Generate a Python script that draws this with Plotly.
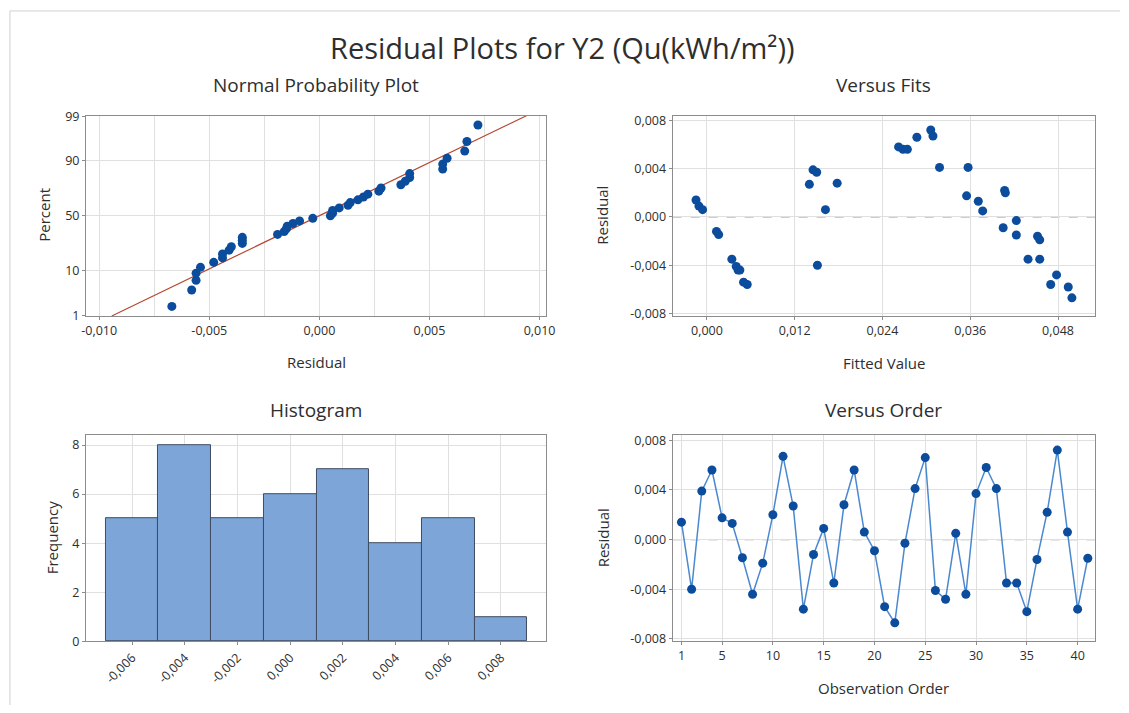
import plotly.graph_objects as go
from statistics import NormalDist, mean, stdev

# ---------------- data ----------------
observation_order = list(range(1, 42))
residuals = [
    0.0014, -0.0040, 0.0039, 0.0056, 0.00175, 0.0013, -0.00146, -0.0044, -0.0019, 0.0020,
    0.0067, 0.0027, -0.0056, -0.0012, 0.0009, -0.0035, 0.0028, 0.0056, 0.0006, -0.0009,
    -0.0054, -0.0067, -0.0003, 0.0041, 0.0066, -0.0041, -0.0048, 0.0005, -0.0044, 0.0037,
    0.0058, 0.0041, -0.0035, -0.0035, -0.0058, -0.0016, 0.0022, 0.0072, 0.0006, -0.0056,
    -0.0015,
]
fitted_values = [
    -0.0015, 0.0151, 0.0145, 0.0268, 0.0355, 0.0371, 0.0016, 0.00425, 0.0455, 0.0408,
    0.0309, 0.0140, 0.0055, 0.0013, -0.0011, 0.0034, 0.0178, 0.0274, 0.0162, 0.0405,
    0.0050, 0.0499, 0.0423, 0.0357, 0.0287, 0.0040, 0.0478, 0.0377, 0.0045, 0.0150,
    0.0262, 0.0318, 0.0439, 0.0455, 0.0494, 0.0452, 0.0407, 0.0306, -0.0006, 0.0470,
    0.0423,
]

npp_pct_ticks = [1, 10, 50, 90, 99]
npp_x_ticks = [-0.010, -0.005, 0.0, 0.005, 0.010]
npp_x_labels = ["-0,010", "-0,005", "0,000", "0,005", "0,010"]
fits_x_ticks = [0.0, 0.012, 0.024, 0.036, 0.048]
fits_x_labels = ["0,000", "0,012", "0,024", "0,036", "0,048"]
resid_ticks = [-0.008, -0.004, 0.0, 0.004, 0.008]
resid_labels = ["-0,008", "-0,004", "0,000", "0,004", "0,008"]
hist_ticks = [-0.006, -0.004, -0.002, 0.0, 0.002, 0.004, 0.006, 0.008]
hist_labels = ["-0,006", "-0,004", "-0,002", "0,000", "0,002", "0,004", "0,006", "0,008"]
freq_ticks = [0, 2, 4, 6, 8]
order_ticks = [1, 5, 10, 15, 20, 25, 30, 35, 40]

# ---------------- style ----------------
W, H = 1129, 713
FONT = "Open Sans"
TXT = "#2E2E2E"
GRID = "#E0E0E0"
BORDER = "#8C8C8C"
DOT = "#0B4C9C"
LINE_BLUE = "#4A88D0"
BAR = "#7DA5D8"
BAR_EDGE = "#3E4C63"
FIT_LINE = "#B5472F"

def px_x(p):
    return p / W

def px_y(p):
    return 1 - p / H

nd = NormalDist()
n = len(residuals)
sorted_res = sorted(residuals)
npp_z = [nd.inv_cdf((i + 1 - 0.3) / (n + 0.4)) for i in range(n)]
mu, sd = mean(residuals), stdev(residuals)
z_lim = 2.345
npp_line_z = [-z_lim, z_lim]
npp_line_x = [mu + sd * z for z in npp_line_z]

fig = go.Figure()

# Normal probability plot
fig.add_trace(go.Scatter(x=npp_line_x, y=npp_line_z, mode="lines",
                         line=dict(color=FIT_LINE, width=1.2), xaxis="x", yaxis="y",
                         hoverinfo="skip"))
fig.add_trace(go.Scatter(x=sorted_res, y=npp_z, mode="markers",
                         marker=dict(color=DOT, size=9), xaxis="x", yaxis="y"))

# Versus fits
fig.add_trace(go.Scatter(x=fitted_values, y=residuals, mode="markers",
                         marker=dict(color=DOT, size=9), xaxis="x2", yaxis="y2"))

# Histogram
fig.add_trace(go.Histogram(x=residuals, xbins=dict(start=-0.007, end=0.009, size=0.002),
                           marker=dict(color=BAR, line=dict(color=BAR_EDGE, width=1)),
                           xaxis="x3", yaxis="y3"))

# Versus order
fig.add_trace(go.Scatter(x=observation_order, y=residuals, mode="lines+markers",
                         line=dict(color=LINE_BLUE, width=1.5),
                         marker=dict(color=DOT, size=9), xaxis="x4", yaxis="y4"))

tickfont = dict(family=FONT, size=12.5, color=TXT)
axis_common = dict(showline=True, linecolor=BORDER, linewidth=1, mirror=True,
                   showgrid=True, gridcolor=GRID, gridwidth=1, zeroline=False,
                   ticks="outside", ticklen=3, tickcolor=BORDER, tickfont=tickfont)

top_dom = [px_y(315), px_y(110)]
bot_dom = [px_y(648), px_y(437)]
left_dom = [px_x(82), px_x(548)]
right_dom = [px_x(676), px_x(1104)]

fig.update_layout(
    width=W, height=H, margin=dict(l=0, r=0, t=0, b=0),
    paper_bgcolor="white", plot_bgcolor="white", showlegend=False,
    font=dict(family=FONT, color=TXT),
    bargap=0,
    xaxis=dict(domain=left_dom, anchor="y", range=[-0.0106, 0.0103],
               tickvals=npp_x_ticks, ticktext=npp_x_labels,
               minor=dict(dtick=0.0025, tick0=0, showgrid=True, gridcolor=GRID, ticks=""),
               **axis_common),
    yaxis=dict(domain=top_dom, anchor="x", range=[-z_lim, z_lim],
               tickvals=[nd.inv_cdf(p / 100) for p in npp_pct_ticks],
               ticktext=[str(p) for p in npp_pct_ticks], **axis_common),
    xaxis2=dict(domain=right_dom, anchor="y2", range=[-0.0047, 0.0531],
                tickvals=fits_x_ticks, ticktext=fits_x_labels, **axis_common),
    yaxis2=dict(domain=top_dom, anchor="x2", range=[-0.0082, 0.0084],
                tickvals=resid_ticks, ticktext=resid_labels, **axis_common),
    xaxis3=dict(domain=left_dom, anchor="y3", range=[-0.00775, 0.00972],
                tickvals=hist_ticks, ticktext=hist_labels, tickangle=-45, **axis_common),
    yaxis3=dict(domain=bot_dom, anchor="x3", range=[0, 8.4],
                tickvals=freq_ticks, ticktext=[str(v) for v in freq_ticks], **axis_common),
    xaxis4=dict(domain=right_dom, anchor="y4", range=[0.13, 41.74],
                tickvals=order_ticks, ticktext=[str(v) for v in order_ticks], **axis_common),
    yaxis4=dict(domain=bot_dom, anchor="x4", range=[-0.0082, 0.0084],
                tickvals=resid_ticks, ticktext=resid_labels, **axis_common),
)

# zero reference lines
for xr, yr in (("x2", "y2"), ("x4", "y4")):
    fig.add_shape(type="line", xref=f"{xr} domain", yref=yr, x0=0, x1=1, y0=0, y1=0,
                  line=dict(color="#9A9A9A", width=1.2, dash="dash"), layer="below")

# frame lines of the screenshot
fig.add_shape(type="line", xref="paper", yref="paper", x0=px_x(5), x1=1, y0=px_y(3), y1=px_y(3),
              line=dict(color="#D0D0D0", width=1))
fig.add_shape(type="line", xref="paper", yref="paper", x0=px_x(5), x1=px_x(5), y0=0, y1=px_y(3),
              line=dict(color="#D0D0D0", width=1))

def ann(text, x, y, size, angle=0):
    fig.add_annotation(text=text, x=px_x(x), y=px_y(y), xref="paper", yref="paper",
                       showarrow=False, xanchor="center", yanchor="middle", textangle=angle,
                       font=dict(family=FONT, size=size, color=TXT))

ann("Residual Plots for Y2 (Qu(kWh/m²))", 565, 40, 29)
ann("Normal Probability Plot", 315, 79, 19)
ann("Versus Fits", 890, 79, 19)
ann("Histogram", 315, 411, 19)
ann("Versus Order", 890, 411, 19)
ann("Residual", 315, 362, 15)
ann("Fitted Value", 890, 363, 15)
ann("Observation Order", 890, 696, 15)
ann("Percent", 40, 212, 15, -90)
ann("Residual", 605, 212, 15, -90)
ann("Frequency", 47, 542, 15, -90)
ann("Residual", 605, 542, 15, -90)

fig.write_html("out.html")
